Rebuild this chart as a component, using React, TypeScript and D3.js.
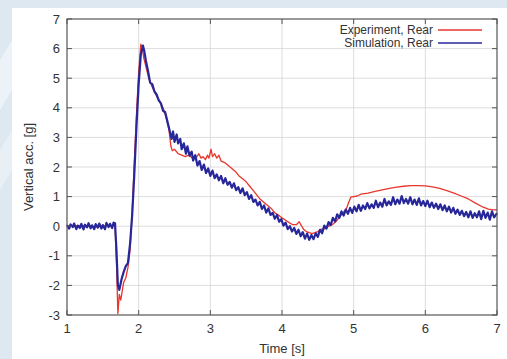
import { useEffect, useRef } from "react";
import * as d3 from "d3";

const xTicks = [1, 2, 3, 4, 5, 6, 7];
const yTicks = [-3, -2, -1, 0, 1, 2, 3, 4, 5, 6, 7];

const seriesNames = ["Experiment, Rear", "Simulation, Rear"];

// experiment (red), [time s, acc g]
const experiment: [number, number][] = [
  [1.0, 0.0], [1.2, 0.02], [1.4, -0.02], [1.6, 0.02], [1.67, 0.02], [1.69, -1.2], [1.71, -2.95],
  [1.73, -2.3], [1.75, -2.5], [1.77, -2.2], [1.79, -1.9], [1.82, -1.75], [1.85, -1.4],
  [1.88, -0.8], [1.91, 0.5], [1.94, 2.2], [1.97, 3.8], [2.0, 5.2], [2.03, 6.15], [2.05, 6.05],
  [2.07, 5.7], [2.1, 5.4], [2.14, 5.0], [2.18, 4.75], [2.22, 4.55], [2.26, 4.35], [2.3, 4.2],
  [2.34, 4.0], [2.38, 3.7], [2.42, 3.3], [2.45, 2.7], [2.47, 2.55], [2.5, 2.6], [2.55, 2.45],
  [2.6, 2.4], [2.65, 2.35], [2.7, 2.4], [2.75, 2.3], [2.8, 2.3], [2.84, 2.45], [2.87, 2.3],
  [2.9, 2.35], [2.93, 2.25], [2.96, 2.4], [2.98, 2.3], [3.01, 2.6], [3.03, 2.35], [3.06, 2.45],
  [3.09, 2.3], [3.12, 2.4], [3.15, 2.2], [3.2, 2.15], [3.25, 2.05], [3.3, 1.95], [3.35, 1.85],
  [3.4, 1.7], [3.45, 1.6], [3.5, 1.5], [3.55, 1.35], [3.6, 1.2], [3.65, 1.05], [3.7, 0.9],
  [3.75, 0.8], [3.8, 0.7], [3.85, 0.6], [3.9, 0.45], [3.95, 0.38], [4.0, 0.28], [4.05, 0.2],
  [4.1, 0.12], [4.15, 0.05], [4.2, 0.05], [4.24, 0.15], [4.27, 0.02], [4.3, -0.1], [4.34, -0.18],
  [4.38, -0.22], [4.42, -0.25], [4.46, -0.22], [4.5, -0.18], [4.55, -0.1], [4.6, -0.08],
  [4.65, 0.0], [4.7, 0.05], [4.75, 0.15], [4.8, 0.3], [4.85, 0.45], [4.9, 0.6], [4.93, 0.8],
  [4.96, 0.98], [5.0, 1.0], [5.05, 1.02], [5.1, 1.08], [5.15, 1.1], [5.2, 1.12], [5.3, 1.18],
  [5.4, 1.23], [5.5, 1.28], [5.6, 1.32], [5.7, 1.35], [5.8, 1.37], [5.9, 1.37], [6.0, 1.36],
  [6.1, 1.33], [6.2, 1.28], [6.3, 1.2], [6.4, 1.12], [6.5, 1.02], [6.6, 0.92], [6.7, 0.78],
  [6.8, 0.65], [6.88, 0.58], [6.95, 0.55], [7.0, 0.55],
];

// simulation (blue), noisy
const simulation: [number, number][] = [
  [1.0, 0.04], [1.03, -0.08], [1.05, 0.06], [1.08, -0.03], [1.1, 0.09], [1.13, -0.1], [1.15, 0.02],
  [1.18, -0.06], [1.2, 0.08], [1.23, -0.11], [1.25, 0.05], [1.28, -0.04], [1.3, 0.1], [1.33, -0.07],
  [1.35, 0.03], [1.38, -0.1], [1.4, 0.07], [1.43, -0.05], [1.45, 0.09], [1.48, -0.08], [1.5, 0.04],
  [1.53, -0.1], [1.55, 0.11], [1.58, -0.03], [1.6, 0.08], [1.63, -0.06], [1.65, 0.12], [1.67, 0.1],
  [1.69, -0.8], [1.71, -2.0], [1.73, -2.15], [1.76, -1.8], [1.79, -1.55], [1.82, -1.35],
  [1.85, -1.25], [1.88, -0.6], [1.91, 0.4], [1.94, 1.8], [1.97, 3.4], [2.0, 4.8], [2.03, 5.8],
  [2.06, 6.1], [2.08, 5.9], [2.1, 5.6], [2.13, 5.25], [2.16, 4.85], [2.19, 4.8], [2.22, 4.55],
  [2.25, 4.45], [2.28, 4.25], [2.31, 4.15], [2.34, 3.9], [2.37, 3.85], [2.4, 3.55], [2.43, 3.25],
  [2.46, 2.95], [2.48, 3.2], [2.5, 2.85], [2.53, 3.1], [2.55, 2.8], [2.58, 2.95], [2.6, 2.6],
  [2.63, 2.8], [2.66, 2.45], [2.68, 2.7], [2.71, 2.38], [2.74, 2.52], [2.76, 2.22], [2.79, 2.4],
  [2.82, 2.05], [2.85, 2.2], [2.88, 1.9], [2.91, 2.08], [2.94, 1.8], [2.97, 1.95], [3.0, 1.7],
  [3.03, 1.88], [3.06, 1.62], [3.09, 1.75], [3.12, 1.55], [3.15, 1.7], [3.18, 1.45], [3.21, 1.62],
  [3.24, 1.4], [3.27, 1.5], [3.3, 1.3], [3.33, 1.45], [3.36, 1.22], [3.39, 1.32], [3.42, 1.12],
  [3.45, 1.28], [3.48, 1.05], [3.51, 1.15], [3.54, 0.92], [3.57, 1.05], [3.6, 0.82], [3.63, 0.9],
  [3.66, 0.7], [3.69, 0.82], [3.72, 0.58], [3.75, 0.7], [3.78, 0.46], [3.81, 0.6], [3.84, 0.38],
  [3.87, 0.45], [3.9, 0.25], [3.93, 0.38], [3.96, 0.15], [3.99, 0.24], [4.02, 0.02], [4.05, 0.12],
  [4.08, -0.1], [4.11, 0.0], [4.14, -0.18], [4.17, -0.06], [4.2, -0.26], [4.23, -0.12],
  [4.26, -0.34], [4.29, -0.2], [4.32, -0.42], [4.35, -0.25], [4.38, -0.46], [4.41, -0.3],
  [4.44, -0.44], [4.47, -0.24], [4.5, -0.36], [4.53, -0.12], [4.56, -0.24], [4.59, 0.02],
  [4.62, -0.08], [4.65, 0.14], [4.68, 0.04], [4.71, 0.28], [4.74, 0.16], [4.77, 0.4],
  [4.8, 0.28], [4.83, 0.5], [4.86, 0.36], [4.89, 0.56], [4.92, 0.42], [4.95, 0.62], [4.98, 0.45],
  [5.01, 0.66], [5.04, 0.5], [5.07, 0.72], [5.1, 0.52], [5.13, 0.7], [5.16, 0.58], [5.19, 0.78],
  [5.22, 0.6], [5.25, 0.74], [5.28, 0.62], [5.31, 0.86], [5.34, 0.64], [5.37, 0.8], [5.4, 0.66],
  [5.43, 0.92], [5.46, 0.7], [5.49, 0.84], [5.52, 0.72], [5.55, 0.98], [5.58, 0.74], [5.61, 0.9],
  [5.64, 0.76], [5.67, 1.02], [5.7, 0.78], [5.73, 0.92], [5.76, 0.76], [5.79, 0.98], [5.82, 0.74],
  [5.85, 0.9], [5.88, 0.72], [5.91, 0.94], [5.94, 0.7], [5.97, 0.85], [6.0, 0.68], [6.03, 0.86],
  [6.06, 0.64], [6.09, 0.8], [6.12, 0.62], [6.15, 0.76], [6.18, 0.58], [6.21, 0.74], [6.24, 0.54],
  [6.27, 0.7], [6.3, 0.5], [6.33, 0.66], [6.36, 0.46], [6.39, 0.62], [6.42, 0.42], [6.45, 0.56],
  [6.48, 0.38], [6.51, 0.52], [6.54, 0.34], [6.57, 0.48], [6.6, 0.3], [6.63, 0.5], [6.66, 0.28],
  [6.69, 0.44], [6.72, 0.3], [6.75, 0.5], [6.78, 0.24], [6.81, 0.52], [6.84, 0.28], [6.87, 0.46],
  [6.9, 0.22], [6.93, 0.5], [6.96, 0.3], [7.0, 0.44],
];

const W = 507;
const H = 359;
const margin = { top: 19, right: 10, bottom: 44, left: 67 };

const App = () => {
  const ref = useRef<SVGSVGElement>(null);

  useEffect(() => {
    const svg = d3.select(ref.current);
    svg.selectAll("*").remove();

    // background
    svg.append("rect").attr("width", W).attr("height", H).attr("fill", "#dde8f0");
    svg.append("path").attr("d", "M0,60 L12,40 L12,90 L0,110 Z").attr("fill", "#ffffff").attr("opacity", 0.45);
    svg.append("path").attr("d", "M0,150 L12,130 L12,170 L0,190 Z").attr("fill", "#ffffff").attr("opacity", 0.35);
    svg.append("rect").attr("x", 12).attr("y", 8).attr("width", W - 12).attr("height", H - 8).attr("fill", "#ffffff");

    const x = d3.scaleLinear().domain([1, 7]).range([margin.left, W - margin.right]);
    const y = d3.scaleLinear().domain([-3, 7]).range([H - margin.bottom, margin.top]);

    const g = svg.append("g");

    // grid
    g.selectAll("line.gx")
      .data(xTicks.slice(1, -1))
      .join("line")
      .attr("x1", (d) => x(d)).attr("x2", (d) => x(d))
      .attr("y1", y(-3)).attr("y2", y(7))
      .attr("stroke", "#d4d4d4").attr("stroke-width", 0.8);
    g.selectAll("line.gy")
      .data(yTicks.slice(1, -1))
      .join("line")
      .attr("x1", x(1)).attr("x2", x(7))
      .attr("y1", (d) => y(d)).attr("y2", (d) => y(d))
      .attr("stroke", "#d4d4d4").attr("stroke-width", 0.8);

    const line = d3.line<[number, number]>().x((d) => x(d[0])).y((d) => y(d[1]));

    g.append("path").datum(experiment).attr("d", line)
      .attr("fill", "none").attr("stroke", "#e8362c").attr("stroke-width", 1.3).attr("stroke-linejoin", "round");
    g.append("path").datum(simulation).attr("d", line)
      .attr("fill", "none").attr("stroke", "#27279a").attr("stroke-width", 2.2).attr("stroke-linejoin", "round");

    // frame and inward ticks on all sides
    const ax = "#555555";
    const tk = 5;
    g.append("rect").attr("x", x(1)).attr("y", y(7)).attr("width", x(7) - x(1)).attr("height", y(-3) - y(7))
      .attr("fill", "none").attr("stroke", ax).attr("stroke-width", 1.2);
    xTicks.forEach((t) => {
      g.append("line").attr("x1", x(t)).attr("x2", x(t)).attr("y1", y(-3)).attr("y2", y(-3) - tk).attr("stroke", ax);
      g.append("line").attr("x1", x(t)).attr("x2", x(t)).attr("y1", y(7)).attr("y2", y(7) + tk).attr("stroke", ax);
    });
    yTicks.forEach((t) => {
      g.append("line").attr("x1", x(1)).attr("x2", x(1) + tk).attr("y1", y(t)).attr("y2", y(t)).attr("stroke", ax);
      g.append("line").attr("x1", x(7)).attr("x2", x(7) - tk).attr("y1", y(t)).attr("y2", y(t)).attr("stroke", ax);
    });

    const font = "'Liberation Sans', Arial, sans-serif";
    const fs = 13;
    g.selectAll("text.xl").data(xTicks).join("text")
      .attr("x", (d) => x(d)).attr("y", y(-3) + 18)
      .attr("text-anchor", "middle").attr("font-family", font).attr("font-size", fs).attr("fill", "#333")
      .text((d) => d);
    g.selectAll("text.yl").data(yTicks).join("text")
      .attr("x", x(1) - 7).attr("y", (d) => y(d) + 4.5)
      .attr("text-anchor", "end").attr("font-family", font).attr("font-size", fs).attr("fill", "#333")
      .text((d) => d);

    svg.append("text").attr("x", (x(1) + x(7)) / 2).attr("y", H - 6)
      .attr("text-anchor", "middle").attr("font-family", font).attr("font-size", fs).attr("fill", "#333")
      .text("Time [s]");
    svg.append("text").attr("transform", `translate(33,${(y(-3) + y(7)) / 2}) rotate(-90)`)
      .attr("text-anchor", "middle").attr("font-family", font).attr("font-size", fs).attr("fill", "#333")
      .text("Vertical acc. [g]");

    // legend
    const legColors = ["#e8362c", "#27279a"];
    seriesNames.forEach((name, i) => {
      const ly = 30 + i * 13;
      svg.append("text").attr("x", 433).attr("y", ly + 4)
        .attr("text-anchor", "end").attr("font-family", font).attr("font-size", 12).attr("fill", "#333")
        .text(name);
      svg.append("line").attr("x1", 438).attr("x2", 482).attr("y1", ly).attr("y2", ly)
        .attr("stroke", legColors[i]).attr("stroke-width", 1.3);
    });
  }, []);

  return <svg ref={ref} width={W} height={H} style={{ position: "absolute", left: 0, top: 0 }} />;
};

export default App;
